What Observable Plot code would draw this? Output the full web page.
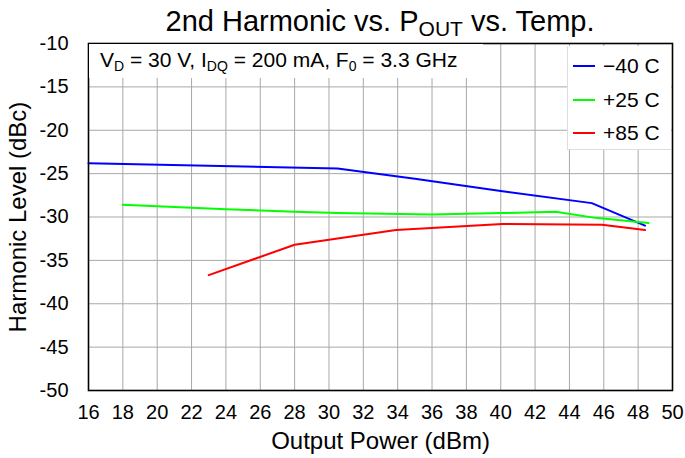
<!DOCTYPE html>
<html><head><meta charset="utf-8">
<script src="https://cdn.jsdelivr.net/npm/d3@7"></script>
<script src="https://cdn.jsdelivr.net/npm/@observablehq/plot@0.6"></script>
<style>
body{margin:0;background:#fff;font-family:"Liberation Sans",Arial,sans-serif;}
#wrap{position:relative;width:685px;height:458px;}
#title{position:absolute;left:88px;width:584px;top:0;height:40px;text-align:center;font-size:29px;line-height:42px;color:#000;white-space:nowrap;}
#title sub{font-size:21px;vertical-align:-5px;line-height:0;}
#note{position:absolute;left:89px;top:44px;width:394px;height:34px;background:#fff;font-size:21px;line-height:32px;padding-left:11px;box-sizing:border-box;white-space:nowrap;}
#note sub{font-size:14px;vertical-align:-4px;line-height:0;}
#legend{position:absolute;left:567px;top:46px;width:104px;height:104px;background:#fff;border-left:1px solid #ddd;border-bottom:1px solid #ddd;box-sizing:border-box;font-size:21px;}
.row{position:absolute;left:5px;height:24px;line-height:24px;white-space:nowrap;}
.sw{display:inline-block;width:22px;height:2px;vertical-align:middle;margin-right:8px;position:relative;top:-1px;}
</style></head>
<body><div id="wrap">
<div id="chart"></div>
<div id="title">2nd Harmonic vs. P<sub>OUT</sub> vs. Temp.</div>
<div id="note">V<sub>D</sub> = 30 V, I<sub>DQ</sub> = 200 mA, F<sub>0</sub> = 3.3 GHz</div>
<div id="legend"></div>
</div>
<script>
const seriesNames = ["\u221240 C", "+25 C", "+85 C"];
const seriesColors = ["#0000ff", "#00ff00", "#ff0000"];
const pout_m40 = [16, 30.5, 35, 40, 45.3, 48.4];
const harm_m40 = [-23.8, -24.4, -25.6, -27.0, -28.4, -31.0];
const pout_p25 = [18, 24, 28, 30.5, 36, 40, 43.2, 45.5, 48.6];
const harm_p25 = [-28.6, -29.1, -29.4, -29.55, -29.7, -29.55, -29.4, -30.1, -30.7];
const pout_p85 = [23, 28, 33.9, 40.1, 45.9, 48.4];
const harm_p85 = [-36.7, -33.2, -31.5, -30.8, -30.9, -31.5];
const xTicks = d3.range(16, 51, 2);
const yTicks = d3.range(-50, -9, 5);

const rows = [];
[[pout_m40, harm_m40], [pout_p25, harm_p25], [pout_p85, harm_p85]].forEach(([xs, ys], i) => {
  xs.forEach((x, j) => rows.push({series: seriesNames[i], x, y: ys[j]}));
});

const plot = Plot.plot({
  width: 685,
  height: 458,
  marginTop: 43,
  marginBottom: 68,
  marginLeft: 88,
  marginRight: 13,
  style: {fontSize: "20px", fontFamily: "'Liberation Sans', Arial, sans-serif", color: "#000", background: "#fff"},
  x: {domain: [16, 50]},
  y: {domain: [-50, -10]},
  color: {domain: seriesNames, range: seriesColors},
  marks: [
    Plot.gridX(xTicks, {stroke: "#a8a8a8", strokeOpacity: 1}),
    Plot.gridY(yTicks, {stroke: "#a8a8a8", strokeOpacity: 1}),
    Plot.axisX(xTicks, {tickSize: 0, tickPadding: 14, fontSize: 20, tickFormat: d => String(d), label: null}),
    Plot.axisX({tickSize: 0, ticks: [], label: "Output Power (dBm)", labelAnchor: "center", labelArrow: "none", labelOffset: 58, fontSize: 24}),
    Plot.axisY(yTicks, {tickSize: 0, tickPadding: 20, fontSize: 20, tickFormat: d => String(d), label: null}),
    Plot.axisY({tickSize: 0, ticks: [], label: "Harmonic Level (dBc)", labelAnchor: "center", labelArrow: "none", labelOffset: 80, fontSize: 24}),
    Plot.line(rows, {x: "x", y: "y", z: "series", stroke: "series", strokeWidth: 2}),
    Plot.frame({stroke: "#000", strokeWidth: 1.6})
  ]
});
document.getElementById("chart").appendChild(plot);

const leg = document.getElementById("legend");
seriesNames.forEach((n, i) => {
  const r = document.createElement("div");
  r.className = "row";
  r.style.top = (8 + i * 33.5) + "px";
  r.innerHTML = `<span class="sw" style="background:${seriesColors[i]}"></span>${n}`;
  leg.appendChild(r);
});
</script>
</body></html>
